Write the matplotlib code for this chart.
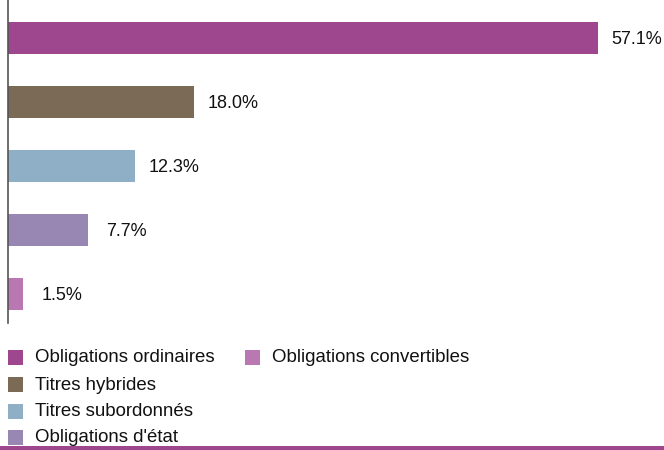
import matplotlib
matplotlib.use('Agg')
import matplotlib.pyplot as plt
from matplotlib.patches import Rectangle

plt.rcParams['font.family'] = ['Liberation Sans', 'DejaVu Sans']

categories = ['Obligations ordinaires', 'Titres hybrides', 'Titres subordonnés',
              "Obligations d'état", 'Obligations convertibles']
values = [57.1, 18.0, 12.3, 7.7, 1.5]
colors = ['#9E478F', '#7A6A56', '#8FAFC7', '#9886B3', '#B978B1']

W, H = 664, 450
fig = plt.figure(figsize=(W / 100, H / 100), dpi=100)
fig.patch.set_facecolor('white')

# axes: x from 8px to right edge, y from top to 323px
ax = fig.add_axes([8 / W, 1 - 323 / H, 1 - 8 / W, 323 / H])
pos = list(range(len(values)))
ax.barh(pos, values, height=0.5, color=colors)
ax.set_xlim(0, 57.1 * (W - 8) / 590)
ax.set_ylim((323 - 38) / 64, -38 / 64)
for s in ['top', 'right', 'bottom']:
    ax.spines[s].set_visible(False)
ax.spines['left'].set_color('#555555')
ax.spines['left'].set_linewidth(1.2)
ax.set_xticks([])
ax.set_yticks([])

# value labels, centred a fixed distance past the bar end
for p, v in zip(pos, values):
    ax.annotate(f'{v:.1f}%', xy=(v, p), xytext=(39, -2), textcoords='offset pixels',
                ha='center', va='center', fontsize=13, color='#111111')

# legend (two columns: four entries left, one right)
slots = [(8, 357), (8, 384), (8, 411), (8, 437), (245, 357)]
for (lx, ly), lab, c in zip(slots, categories, colors):
    fig.patches.append(Rectangle((lx / W, 1 - (ly + 8) / H), 15 / W, 15 / H,
                                 transform=fig.transFigure, facecolor=c, edgecolor='none'))
    fig.text((lx + 27) / W, 1 - (ly + 1) / H, lab, ha='left', va='center',
             fontsize=13.4, color='#111111')

# bottom rule
fig.patches.append(Rectangle((0, 0), 1, 4 / H, transform=fig.transFigure,
                             facecolor='#9E478F', edgecolor='none', zorder=10))

fig.savefig('out.png', dpi=100, facecolor='white')
